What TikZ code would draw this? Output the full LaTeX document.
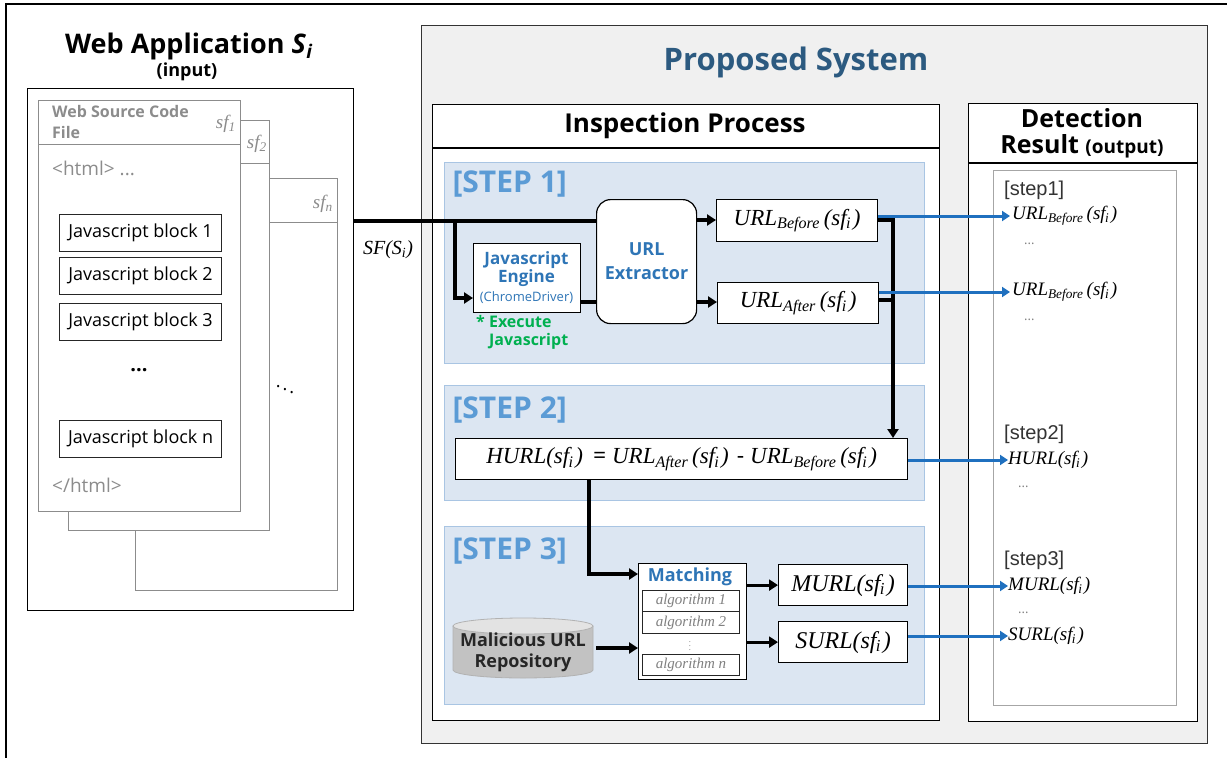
\documentclass[tikz,border=0pt]{standalone}
\usepackage{fontspec}
\setmainfont{Open Sans}
\newfontfamily\ser{Liberation Serif}
\newfontfamily\arialf{Liberation Sans}
\usetikzlibrary{arrows.meta}
\definecolor{stepfill}{HTML}{DCE6F2}
\definecolor{stepline}{HTML}{A9C5E3}
\definecolor{stepblue}{HTML}{5B9BD5}
\definecolor{darkblue}{HTML}{2E75B6}
\definecolor{arrowblue}{HTML}{1F70BF}
\definecolor{titleblue}{HTML}{2C5A80}
\definecolor{sysfill}{HTML}{F0F0F0}
\definecolor{exgreen}{HTML}{00B050}
\definecolor{pagegray}{HTML}{8C8C8C}
\newcommand{\fs}[2]{\fontsize{#1}{#2}\selectfont}
\newcommand{\sfi}{sf\textsubscript{\kern-0.05em i}\kern0.08em}
\newcommand{\urlx}[1]{{\ser\itshape URL\textsubscript{#1}\,(\sfi)}}
\newcommand{\fx}[1]{{\ser\itshape #1(\sfi)}}
\begin{document}
\begin{tikzpicture}[x=1pt,y=-1pt,
  box/.style={draw=black, line width=1.2pt, fill=white, inner sep=0pt, anchor=north west},
  pg/.style={draw=pagegray, line width=1pt, fill=white, inner sep=0pt, anchor=north west},
  stepbg/.style={draw=stepline, fill=stepfill, line width=1pt, inner sep=0pt, anchor=north west},
  jsb/.style={draw=black!85, line width=1.2pt, fill=white, inner sep=0pt, anchor=north west,
     minimum width=162pt, minimum height=37pt, font=\fs{18}{20}},
  algb/.style={draw=black!85, line width=1pt, fill=white, inner sep=0pt, anchor=north west,
     minimum width=97pt, font=\fs{15}{16}\ser\itshape\color{gray}},
  bar/.style={line width=3.2pt},
  barr/.style={line width=3.2pt, -{Triangle[length=9pt,width=11pt]}},
  blu/.style={arrowblue, line width=3pt, -{Triangle[length=8pt,width=10pt]}},
  steplbl/.style={anchor=west, text=stepblue, font=\fs{30}{32}\bfseries},
  res/.style={anchor=west, inner sep=0pt, font=\fs{19}{22}},
  reshd/.style={anchor=west, inner sep=0pt, font=\fs{20}{22}\arialf\color{black!80}},
  dots/.style={anchor=west, inner sep=0pt, font=\fs{13}{14}\color{gray}},
  pgtxt/.style={inner sep=0pt, text=pagegray},
]
\useasboundingbox (0,0) rectangle (1227,758);
\fill[white] (0,0) rectangle (1227,758);
% outer frame
\draw[line width=1.5pt] (6,758) -- (6,4) -- (1227,4);

% ---------- Web application ----------
\node[font=\fs{27}{30}\bfseries] (title) at (189,46) {Web Application \textit{S}\textsubscript{\textit{i}}};
\node[font=\fs{18}{20}\bfseries] (input) at (187,72) {(input)};
\node[box, minimum width=326pt, minimum height=522pt] (webapp) at (27,88) {};
\node[pg, minimum width=202pt, minimum height=412pt] (pagen) at (135,178) {};
\draw[pagegray, line width=1pt] (135,222) -- (337,222);
\node[pg, minimum width=201pt, minimum height=410pt] (page2) at (68,120) {};
\draw[pagegray, line width=1pt] (68,163) -- (269,163);
\node[pg, minimum width=202pt, minimum height=411pt] (page1) at (38,100) {};
\draw[pagegray, line width=1pt] (38,144) -- (240,144);
\node[pgtxt, anchor=west, align=left, font=\fs{16}{21}\bfseries] (wsc) at (52,122) {Web Source Code\\File};
\node[pgtxt, anchor=east, font=\fs{19}{20}\ser\itshape] (sf1) at (236,124) {sf\textsubscript{1}};
\node[pgtxt, anchor=east, font=\fs{19}{20}\ser\itshape] (sf2) at (267,144) {sf\textsubscript{2}};
\node[pgtxt, anchor=east, font=\fs{19}{20}\ser\itshape] (sfn) at (333,204) {sf\textsubscript{n}};
\node[pgtxt, anchor=west, font=\fs{19}{20}] (html) at (52,168) {<html> ...};
\node[jsb] (js1) at (59,214) {Javascript block 1};
\node[jsb] (js2) at (59,257) {Javascript block 2};
\node[jsb] (js3) at (59,303) {Javascript block 3};
\node[font=\fs{20}{20}\bfseries] (vdots) at (139,370) {...};
\node[jsb] (jsn) at (59,420) {Javascript block n};
\node[pgtxt, anchor=west, font=\fs{19}{20}] (ehtml) at (52,485) {</html>};
\node[font=\fs{18}{18}] (ddots) at (285,386) {$\ddots$};
\node[font=\fs{20}{22}\ser\itshape] (sfs) at (388,250) {SF(S\textsubscript{i})};

% ---------- Proposed system ----------
\node[draw=black!80, line width=1.2pt, fill=sysfill, inner sep=0pt, anchor=north west,
      minimum width=786pt, minimum height=718pt] (sys) at (421,25) {};
\node[text=titleblue, font=\fs{31}{34}\bfseries] (systitle) at (796,62) {Proposed System};
\node[box, minimum width=507pt, minimum height=616pt] (insp) at (432,104) {};
\draw[line width=1.2pt] (432,148) -- (939,148);
\node[font=\fs{26}{28}\bfseries] (insptitle) at (685,126) {Inspection Process};

\node[stepbg, minimum width=480pt, minimum height=201pt] (step1) at (444,162) {};
\node[stepbg, minimum width=480pt, minimum height=115pt] (step2) at (444,385) {};
\node[stepbg, minimum width=480pt, minimum height=178pt] (step3) at (444,526) {};
\node[steplbl] (s1lbl) at (449,184) {[STEP 1]};
\node[steplbl] (s2lbl) at (449,410) {[STEP 2]};
\node[steplbl] (s3lbl) at (449,551) {[STEP 3]};

% step 1
\node[draw=black, line width=1.2pt, fill=white, rounded corners=14pt, inner sep=0pt, anchor=north west,
      minimum width=100pt, minimum height=124pt, align=center, text=darkblue, font=\fs{18}{24}\bfseries]
      (extractor) at (596,199) {URL\\Extractor};
\node[box, minimum width=107pt, minimum height=69pt] (engine) at (473,243) {};
\node[text=darkblue, font=\fs{17}{18}\bfseries, align=center, inner sep=0pt] (englbl) at (526.5,269) {Javascript\\Engine};
\node[text=darkblue, font=\fs{13}{14}, inner sep=0pt] (chrome) at (526.5,298) {(ChromeDriver)};
\node[anchor=north west, inner sep=0pt, align=left, text=exgreen, font=\fs{16}{18}\bfseries] (exec) at (476,315)
      {* Execute\\\hphantom{* }Javascript};
\node[box, minimum width=161pt, minimum height=42pt, font=\fs{23}{26}] (urlb) at (716,199) {\urlx{Before}};
\node[box, minimum width=161pt, minimum height=41pt, font=\fs{23}{26}] (urla) at (717,282) {\urlx{After}};

% step 2
\node[box, minimum width=452pt, minimum height=41pt, font=\fs{23}{26}] (hurl) at (455,438)
      {\fx{HURL}\hspace{10pt}= \urlx{After}\hspace{8pt}- \urlx{Before}};

% step 3
\node[box, minimum width=108pt, minimum height=116pt] (matching) at (638,563) {};
\node[text=darkblue, font=\fs{18}{20}\bfseries, inner sep=0pt] (matchlbl) at (690,577) {Matching};
\node[algb, minimum height=21pt] (alg1) at (642,590) {algorithm 1};
\node[algb, minimum height=22pt] (alg2) at (642,611) {algorithm 2};
\node[font=\fs{8}{9}\color{gray}, inner sep=0pt] (algdots) at (690,643) {$\vdots$};
\node[algb, minimum height=21pt] (algn) at (642,654) {algorithm n};
% repository cylinder
\fill[gray!48] (453,626) -- (453,670) arc[start angle=180, end angle=360, x radius=70pt, y radius=8pt] -- (593,626) -- cycle;
\draw[gray!60, line width=0.8pt] (453,626) -- (453,670) arc[start angle=180, end angle=360, x radius=70pt, y radius=8pt] -- (593,626);
\filldraw[fill=gray!22, draw=gray!60, line width=0.8pt] (523,626) ellipse [x radius=70pt, y radius=8pt];
\node[minimum width=140pt, minimum height=60pt, inner sep=0pt, align=center,
      font=\fs{18}{21}\bfseries, text=black!85] (repo) at (523,652) {Malicious URL\\Repository};
\node[box, minimum width=129pt, minimum height=41pt, font=\fs{24}{26}] (murl) at (778,564) {\fx{MURL}};
\node[box, minimum width=129pt, minimum height=41pt, font=\fs{24}{26}] (surl) at (778,621) {\fx{SURL}};

% ---------- Detection result ----------
\node[box, minimum width=229pt, minimum height=618pt] (detect) at (968,103) {};
\draw[line width=1.2pt] (968,163) -- (1197,163);
\node[font=\fs{25}{28}\bfseries, inner sep=0pt] (dethd1) at (1082,118) {Detection};
\node[font=\fs{25}{28}\bfseries, inner sep=0pt] (dethd2) at (1082,146) {Result {\fs{19}{20}(output)}};
\node[draw=gray!70, line width=1pt, fill=white, inner sep=0pt, anchor=north west,
      minimum width=183pt, minimum height=535pt] (resbox) at (993,170) {};
\node[reshd] (h1) at (1004,190) {[step1]};
\node[res] (r1) at (1012,216) {\urlx{Before}};
\node[dots] (d1) at (1024,244) {...};
\node[res] (r2) at (1012,292) {\urlx{Before}};
\node[dots] (d2) at (1024,320) {...};
\node[reshd] (h2) at (1004,434) {[step2]};
\node[res] (r3) at (1008,460) {\fx{HURL}};
\node[dots] (d3) at (1018,487) {...};
\node[reshd] (h3) at (1004,560) {[step3]};
\node[res] (r4) at (1008,586) {\fx{MURL}};
\node[dots] (d4) at (1018,613) {...};
\node[res] (r5) at (1008,636) {\fx{SURL}};

% ---------- connectors ----------
\coordinate (yin) at (0,221);
\coordinate (split) at (455,221);
\coordinate (yeng) at (0,298);
\coordinate (yx) at (0,302);
\coordinate (yb) at (0,220);
\coordinate (yaf) at (0,300);
\coordinate (xr) at (893,0);
\coordinate (xh) at (589,0);
\coordinate (ym) at (0,574);
\coordinate (yr) at (0,648);

\draw[bar] (webapp.east |- yin) -- (extractor.west |- yin);
\draw[barr] (split) |- (engine.west |- yeng);
\draw[bar] (engine.east |- yx) -- (extractor.west |- yx);
\draw[barr] (extractor.east |- yb) -- (urlb.west |- yb);
\draw[barr] (extractor.east |- yx) -- (urla.west |- yx);
\draw[barr] (urlb.east |- yb) -| (hurl.north -| xr);
\draw[bar] (urla.east |- yaf) -- (xr |- yaf);
\draw[barr] (hurl.south -| xh) |- (matching.west |- ym);
\draw[barr] ([xshift=3pt]repo.east |- yr) -- (matching.west |- yr);
\draw[barr] (matching.east |- murl.west) -- (murl.west);
\draw[barr] (matching.east |- surl.west) -- (surl.west);

\draw[blu] (urlb.east |- r1.west) -- ([xshift=-2pt]r1.west);
\draw[blu] (urla.east |- r2.west) -- ([xshift=-2pt]r2.west);
\draw[blu] (hurl.east |- r3.west) -- (r3.west);
\draw[blu] (murl.east |- r4.west) -- (r4.west);
\draw[blu] (surl.east |- r5.west) -- (r5.west);
\end{tikzpicture}
\end{document}
